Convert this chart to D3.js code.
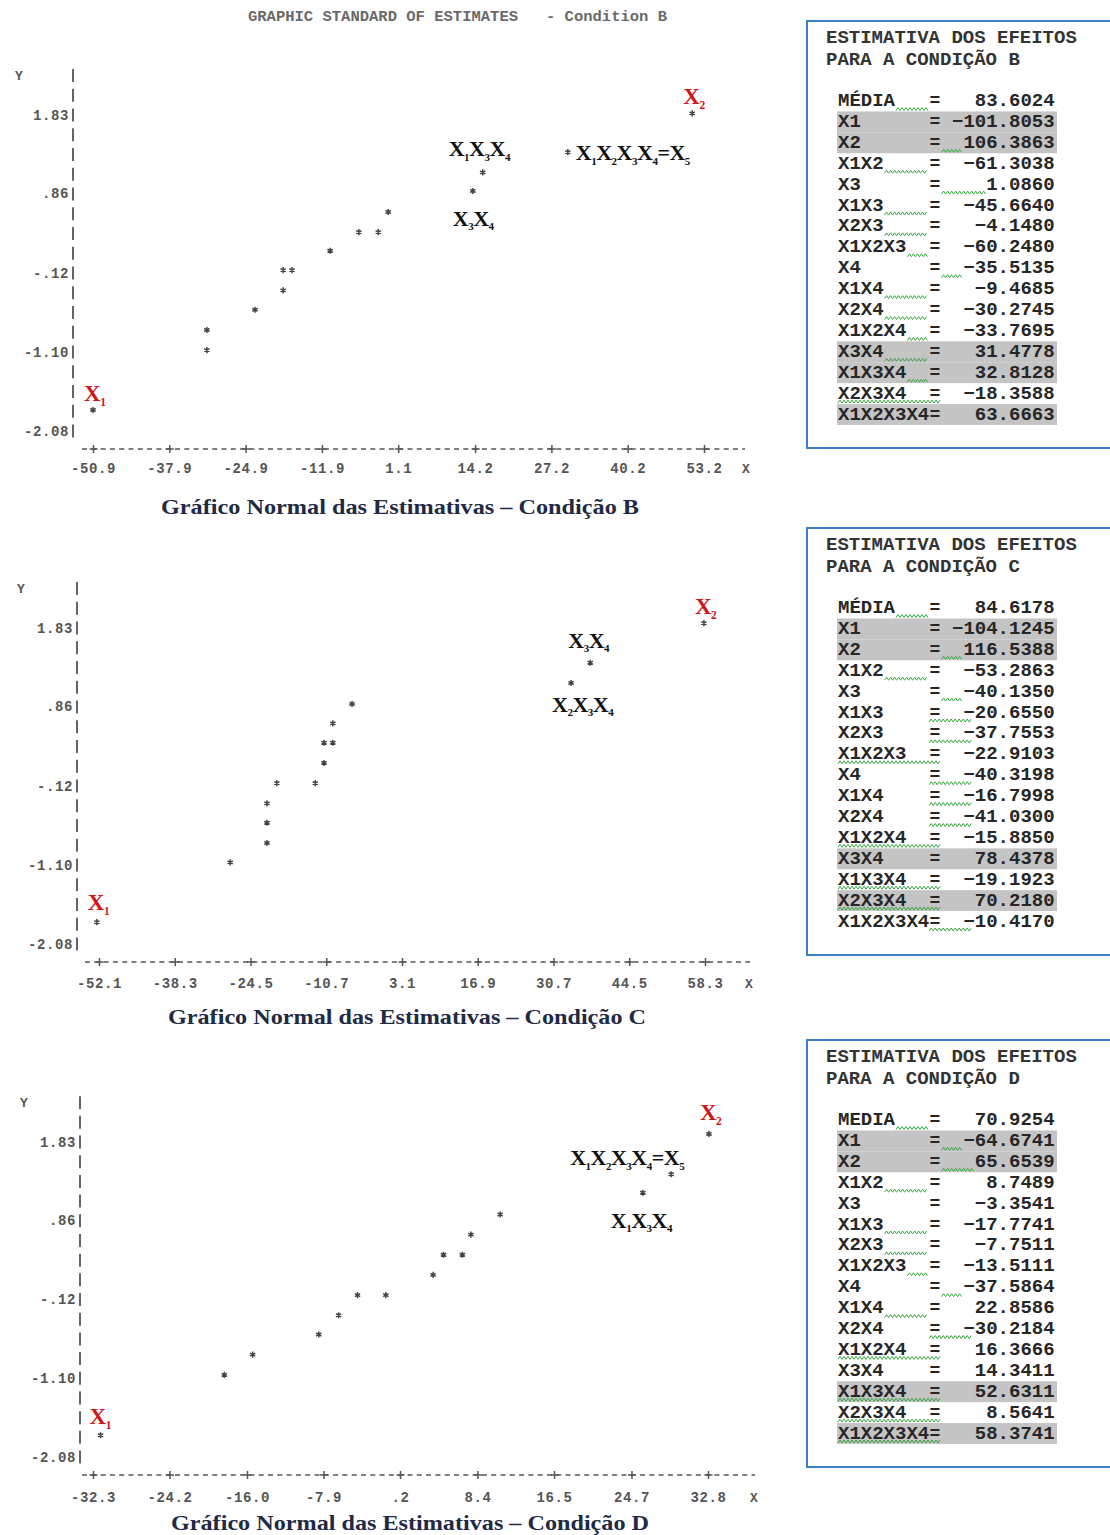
<!DOCTYPE html>
<html>
<head>
<meta charset="utf-8">
<script src="https://cdnjs.cloudflare.com/ajax/libs/d3/7.8.5/d3.min.js"></script>
<style>
  body { margin: 0; background: #fff; }
</style>
</head>
<body>
<svg id="chart" width="1110" height="1535"></svg>
<script>
// ---- data ----
const chartTitle = "GRAPHIC STANDARD OF ESTIMATES   - Condition B"

const yTicks = [-2.08, -1.10, -0.12, 0.86, 1.83]
const yTickLabels = ["-2.08", "-1.10", "-.12", ".86", "1.83"]

const xTicksB = [-50.9, -37.9, -24.9, -11.9, 1.1, 14.2, 27.2, 40.2, 53.2]
const xTickLabelsB = ["-50.9", "-37.9", "-24.9", "-11.9", "1.1", "14.2", "27.2", "40.2", "53.2"]
const xTicksC = [-52.1, -38.3, -24.5, -10.7, 3.1, 16.9, 30.7, 44.5, 58.3]
const xTickLabelsC = ["-52.1", "-38.3", "-24.5", "-10.7", "3.1", "16.9", "30.7", "44.5", "58.3"]
const xTicksD = [-32.3, -24.2, -16.0, -7.9, 0.2, 8.4, 16.5, 24.7, 32.8]
const xTickLabelsD = ["-32.3", "-24.2", "-16.0", "-7.9", ".2", "8.4", "16.5", "24.7", "32.8"]

// normal plot points (estimate, normal score)
const pointsXB = [-50.9, -31.5, -31.5, -23.3, -18.5, -18.5, -17.0, -10.5, -5.6, -2.3, -0.6, 13.8, 15.5, 30.0, 51.2]
const pointsYB = [-1.82, -1.08, -0.83, -0.58, -0.34, -0.09, -0.09, 0.15, 0.38, 0.38, 0.63, 0.89, 1.12, 1.37, 1.85]
const pointsXC = [-52.5, -28.2, -21.5, -21.5, -21.5, -19.7, -12.7, -11.1, -11.1, -9.5, -9.5, -6.0, 33.9, 37.4, 58.1]
const pointsYC = [-1.81, -1.07, -0.83, -0.58, -0.34, -0.09, -0.09, 0.16, 0.41, 0.41, 0.65, 0.89, 1.15, 1.40, 1.89]
const pointsXD = [-31.5, -18.4, -15.4, -8.4, -6.3, -4.3, -1.3, 3.7, 4.8, 6.8, 7.7, 10.8, 25.9, 28.9, 32.9]
const pointsYD = [-1.81, -1.06, -0.81, -0.56, -0.32, -0.07, -0.07, 0.18, 0.43, 0.43, 0.68, 0.93, 1.20, 1.43, 1.93]

// effect tables
const effectNames = ["MÉDIA", "X1", "X2", "X1X2", "X3", "X1X3", "X2X3", "X1X2X3", "X4", "X1X4", "X2X4", "X1X2X4", "X3X4", "X1X3X4", "X2X3X4", "X1X2X3X4"]
const effectNamesD = ["MEDIA", "X1", "X2", "X1X2", "X3", "X1X3", "X2X3", "X1X2X3", "X4", "X1X4", "X2X4", "X1X2X4", "X3X4", "X1X3X4", "X2X3X4", "X1X2X3X4"]
const effectsB = [83.6024, -101.8053, 106.3863, -61.3038, 1.0860, -45.6640, -4.1480, -60.2480, -35.5135, -9.4685, -30.2745, -33.7695, 31.4778, 32.8128, -18.3588, 63.6663]
const effectsC = [84.6178, -104.1245, 116.5388, -53.2863, -40.1350, -20.6550, -37.7553, -22.9103, -40.3198, -16.7998, -41.0300, -15.8850, 78.4378, -19.1923, 70.2180, -10.4170]
const effectsD = [70.9254, -64.6741, 65.6539, 8.7489, -3.3541, -17.7741, -7.7511, -13.5111, -37.5864, 22.8586, -30.2184, 16.3666, 14.3411, 52.6311, 8.5641, 58.3741]
const highlightB = [1, 2, 12, 13, 15]
const highlightC = [1, 2, 12, 14]
const highlightD = [1, 2, 13, 15]
// word-processor wavy underlines: [row, kind]
const wavesB = [[0, "gap"], [2, "after"], [3, "gap"], [4, "after"], [5, "gap"], [6, "gap"], [7, "gap"], [8, "after"], [9, "gap"], [10, "gap"], [11, "gap"], [12, "gap"], [13, "gap"], [14, "all"]]
const wavesC = [[0, "gap"], [2, "after"], [3, "gap"], [4, "after"], [5, "eq"], [6, "eq"], [7, "all"], [8, "eq"], [9, "eq"], [10, "eq"], [11, "all"], [13, "all"], [14, "all"], [15, "eq"]]
const wavesD = [[0, "gap"], [1, "after"], [2, "after"], [3, "gap"], [5, "gap"], [6, "gap"], [7, "gap"], [8, "after"], [9, "gap"], [10, "eq"], [11, "all"], [13, "all"], [14, "all"], [15, "all"]]

// ---- layout ----
const MONO = "'Liberation Mono', 'DejaVu Sans Mono', monospace"
const SERIF = "'Liberation Serif', 'DejaVu Serif', serif"

const panels = [
  { cond: "B", xTicks: xTicksB, xLabels: xTickLabelsB, px: pointsXB, py: pointsYB,
    left: 93, right: 704, top: 115, bottom: 431, yAxisX: 73, xAxisY: 449, xFrom: 82, xTo: 745,
    xLabelY: 473, xLetterX: 742, yLetterX: 15, subX: 400, subY: 514,
    notes: [{ i: 0, t: "X1", red: true, dx: -9, dy: -9 }, { i: 14, t: "X2", red: true, dx: -9, dy: -9 },
            { i: 12, t: "X1X3X4", dx: -34, dy: -16 }, { i: 11, t: "X3X4", dx: -20, dy: 35 },
            { i: 13, t: "X1X2X3X4=X5", dx: 8, dy: 8 }] },
  { cond: "C", xTicks: xTicksC, xLabels: xTickLabelsC, px: pointsXC, py: pointsYC,
    left: 99, right: 705, top: 628, bottom: 944, yAxisX: 77, xAxisY: 962, xFrom: 85, xTo: 750,
    xLabelY: 988, xLetterX: 745, yLetterX: 17, subX: 407, subY: 1024,
    notes: [{ i: 0, t: "X1", red: true, dx: -9, dy: -12 }, { i: 14, t: "X2", red: true, dx: -9, dy: -9 },
            { i: 13, t: "X3X4", dx: -22, dy: -15 }, { i: 12, t: "X2X3X4", dx: -19, dy: 29 }] },
  { cond: "D", xTicks: xTicksD, xLabels: xTickLabelsD, px: pointsXD, py: pointsYD,
    left: 93, right: 708, top: 1142, bottom: 1457, yAxisX: 80, xAxisY: 1475, xFrom: 82, xTo: 755,
    xLabelY: 1502, xLetterX: 750, yLetterX: 20, subX: 410, subY: 1530,
    notes: [{ i: 0, t: "X1", red: true, dx: -11, dy: -11 }, { i: 14, t: "X2", red: true, dx: -9, dy: -14 },
            { i: 13, t: "X1X2X3X4=X5", dx: -101, dy: -9 }, { i: 12, t: "X1X3X4", dx: -32, dy: 35 }] }
]

const tables = [
  { cond: "B", names: effectNames, values: effectsB, marks: highlightB, waves: wavesB, top: 21 },
  { cond: "C", names: effectNames, values: effectsC, marks: highlightC, waves: wavesC, top: 528 },
  { cond: "D", names: effectNamesD, values: effectsD, marks: highlightD, waves: wavesD, top: 1040 }
]

const svg = d3.select("#chart").style("font-family", MONO)
svg.append("rect").attr("width", 1110).attr("height", 1535).attr("fill", "#fff")

svg.append("text")
  .attr("x", 248).attr("y", 21)
  .attr("textLength", 419).attr("lengthAdjust", "spacingAndGlyphs")
  .style("white-space", "pre").style("font-family", MONO)
  .attr("font-size", 14).attr("font-weight", "bold").attr("fill", "#6a6a6a")
  .text(chartTitle)

// label like "X1X3X4" -> X with small subscripts
function subLabel(sel, str, size) {
  let down = false
  for (const ch of str) {
    const isDigit = /[0-9]/.test(ch)
    const t = sel.append("tspan").text(ch)
    if (isDigit) {
      t.attr("font-size", size * 0.5).attr("dy", down ? 0 : size * 0.2)
      down = true
    } else {
      if (down) t.attr("dy", -size * 0.2)
      down = false
    }
  }
}

panels.forEach(p => {
  const x = d3.scaleLinear().domain([p.xTicks[0], p.xTicks[p.xTicks.length - 1]]).range([p.left, p.right])
  const y = d3.scaleLinear().domain([yTicks[0], yTicks[yTicks.length - 1]]).range([p.bottom, p.top])
  const step = (p.bottom - p.top) / 16
  const g = svg.append("g")

  // Y axis drawn as a column of "|" marks
  g.append("line")
    .attr("x1", p.yAxisX).attr("x2", p.yAxisX)
    .attr("y1", y(1.83) - 2 * step - 6.5).attr("y2", y(-2.08) + 6.5)
    .attr("stroke", "#555").attr("stroke-width", 1.8)
    .attr("stroke-dasharray", "13," + (step - 13))

  const yAxis = g.append("g")
    .attr("transform", "translate(" + (p.yAxisX - 1) + ",0)")
    .call(d3.axisLeft(y).tickValues(yTicks).tickFormat((d, i) => yTickLabels[i]).tickSize(0).tickPadding(3))
  yAxis.select(".domain").remove()
  yAxis.selectAll("text")
    .style("font-family", MONO)
    .attr("font-size", 14).attr("font-weight", "bold")
    .attr("letter-spacing", "0.6px").attr("fill", "#555")

  g.append("text").attr("x", p.yLetterX).attr("y", y(1.83) - 2 * step + 4)
    .attr("font-size", 13).attr("font-weight", "bold").attr("fill", "#555").text("Y")

  // X axis: dashed line with "+" ticks
  g.append("line")
    .attr("x1", p.xFrom).attr("x2", p.xTo)
    .attr("y1", p.xAxisY).attr("y2", p.xAxisY)
    .attr("stroke", "#555").attr("stroke-width", 1.5)
    .attr("stroke-dasharray", "5,4.3")

  const xAxis = g.append("g")
    .attr("transform", "translate(0," + p.xAxisY + ")")
    .call(d3.axisBottom(x).tickValues(p.xTicks).tickFormat((d, i) => p.xLabels[i]).tickSize(4))
  xAxis.select(".domain").remove()
  xAxis.selectAll(".tick line").attr("y1", -4).attr("y2", 4).attr("stroke", "#555").attr("stroke-width", 1.5)
  xAxis.selectAll(".tick").append("line").attr("x1", -4).attr("x2", 4).attr("stroke", "#555").attr("stroke-width", 1.5)
  xAxis.selectAll("text")
    .attr("y", p.xLabelY - p.xAxisY).attr("dy", 0)
    .style("font-family", MONO)
    .attr("font-size", 14).attr("font-weight", "bold")
    .attr("letter-spacing", "0.6px").attr("fill", "#555")

  g.append("text").attr("x", p.xLetterX).attr("y", p.xLabelY)
    .attr("font-size", 13).attr("font-weight", "bold").attr("fill", "#555").text("X")

  // asterisk points
  const star = d3.symbol(d3.symbolAsterisk, 26)
  g.selectAll("path.pt")
    .data(p.px.map((v, i) => [v, p.py[i]]))
    .join("path").attr("class", "pt")
    .attr("d", star)
    .attr("transform", d => "translate(" + x(d[0]) + "," + y(d[1]) + ")")
    .attr("fill", "none").attr("stroke", "#444").attr("stroke-width", 1.5)

  // annotations
  p.notes.forEach(n => {
    const size = n.red ? 23 : 22
    const t = g.append("text")
      .attr("x", x(p.px[n.i]) + n.dx).attr("y", y(p.py[n.i]) + n.dy)
      .style("font-family", SERIF)
      .attr("font-weight", "bold")
      .attr("font-size", size)
      .attr("letter-spacing", "-0.5px")
      .attr("fill", n.red ? "#d0151b" : "#111")
    subLabel(t, n.t, size)
  })

  g.append("text").attr("x", p.subX).attr("y", p.subY)
    .attr("text-anchor", "middle")
    .style("font-family", SERIF)
    .attr("font-weight", "bold").attr("font-size", 22)
    .attr("textLength", 478).attr("lengthAdjust", "spacingAndGlyphs")
    .attr("fill", "#1f2a45")
    .text("Gráfico Normal das Estimativas – Condição " + p.cond)
})

// effect tables
const cw = 11.4, tx0 = 838, rowStep = 20.9
const fmt = d3.format(".4f")
const waveLine = d3.line()

tables.forEach(tb => {
  const g = svg.append("g").style("font-family", MONO).attr("font-weight", "bold")
  g.append("rect")
    .attr("x", 807).attr("y", tb.top).attr("width", 330).attr("height", 427)
    .attr("fill", "none").attr("stroke", "#3f7fca").attr("stroke-width", 2)

  const rowY = i => tb.top + 80 + i * rowStep

  g.selectAll("rect.hl").data(tb.marks).join("rect").attr("class", "hl")
    .attr("x", tx0 - 1).attr("y", i => rowY(i) - rowStep / 2)
    .attr("width", 19.3 * cw).attr("height", rowStep)
    .attr("fill", "#c4c4c4")

  const head = ["ESTIMATIVA DOS EFEITOS", "PARA A CONDIÇÃO " + tb.cond]
  head.forEach((h, k) => {
    g.append("text").attr("x", 826).attr("y", tb.top + 17 + k * 22)
      .attr("dominant-baseline", "central")
      .attr("font-size", 18).attr("fill", "#333")
      .attr("textLength", h.length * cw).attr("lengthAdjust", "spacingAndGlyphs")
      .text(h)
  })

  tb.names.forEach((name, i) => {
    const vs = fmt(tb.values[i])
    g.append("text").attr("x", tx0).attr("y", rowY(i))
      .attr("dominant-baseline", "central").attr("font-size", 18).attr("fill", "#262626")
      .attr("textLength", name.length * cw).attr("lengthAdjust", "spacingAndGlyphs")
      .text(name)
    g.append("text").attr("x", tx0 + 8.5 * cw).attr("y", rowY(i))
      .attr("dominant-baseline", "central").attr("text-anchor", "middle")
      .attr("font-size", 18).attr("fill", "#262626").text("=")
    g.append("text").attr("x", tx0 + 19 * cw).attr("y", rowY(i))
      .attr("dominant-baseline", "central").attr("text-anchor", "end")
      .attr("font-size", 18).attr("fill", "#262626")
      .attr("textLength", vs.length * cw).attr("lengthAdjust", "spacingAndGlyphs")
      .text(vs)
  })

  tb.waves.forEach(([i, kind]) => {
    const name = tb.names[i], vs = fmt(tb.values[i])
    const vStart = tx0 + (19 - vs.length) * cw
    let a, b
    if (kind === "gap") { a = tx0 + name.length * cw + 1; b = tx0 + 8 * cw - 1 }
    else if (kind === "after") { a = tx0 + 9 * cw + 1; b = vStart }
    else if (kind === "eq") { a = tx0 + 8 * cw; b = vStart + 0.8 * cw }
    else { a = tx0; b = tx0 + 9 * cw }
    const yy = rowY(i) + 8
    const pts = d3.range(a, b + 0.1, 2).map((xx, k) => [xx, yy + (k % 2 ? -1.5 : 1.5)])
    g.append("path").attr("d", waveLine(pts))
      .attr("fill", "none").attr("stroke", "#3aa640").attr("stroke-width", 1)
  })
})
</script>
</body>
</html>
